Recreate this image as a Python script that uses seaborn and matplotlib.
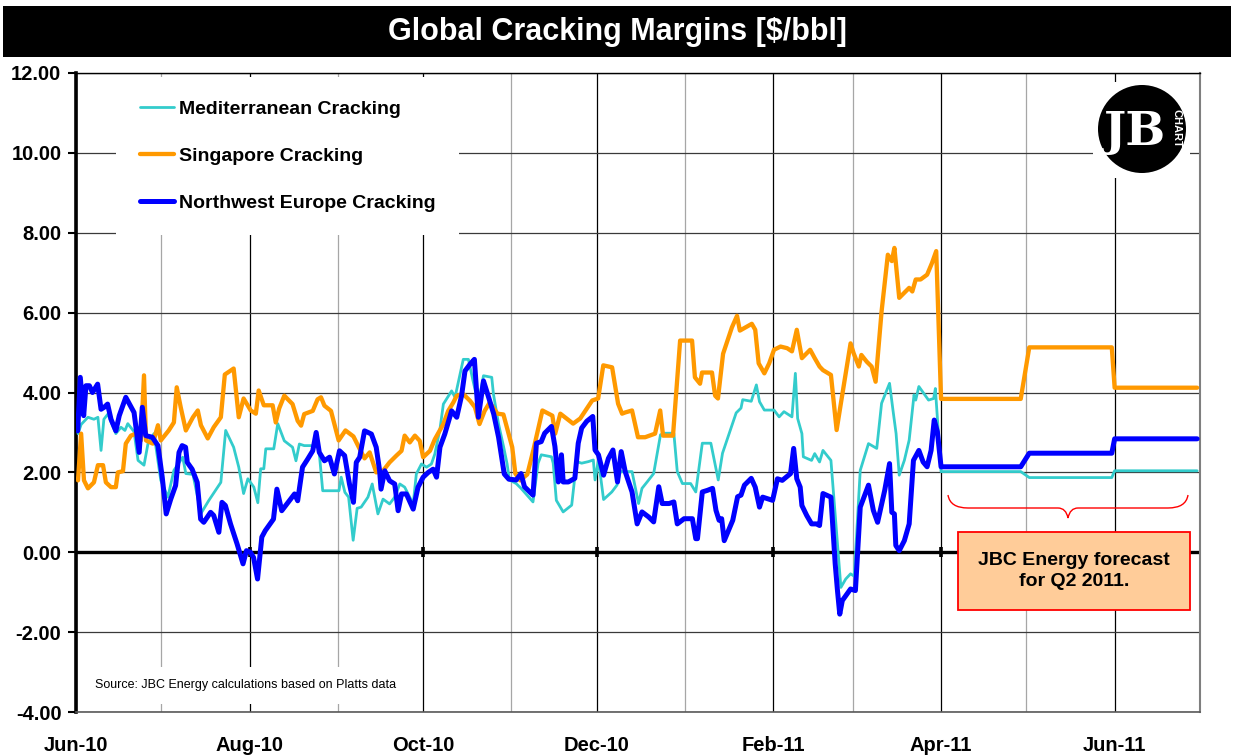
import numpy as np
import pandas as pd
import matplotlib
matplotlib.use("Agg")
import matplotlib.pyplot as plt
from matplotlib.patches import Rectangle, Ellipse, PathPatch
from matplotlib.path import Path
import seaborn as sns

# ---------------- data ----------------
# days since 2010-06-01
med_days = [0.7, 1.8, 4.2, 6.3, 7.7, 8.8, 9.8, 11.2, 14.0, 15.8,
            17.2, 18.2, 20.4, 21.8, 23.9, 25.3, 27.4, 29.8, 32.3, 34.4,
            37.5, 38.6, 41.1, 43.9, 46.7, 50.9, 52.6, 55.4, 57.2, 58.9,
            60.4, 62.5, 63.9, 64.9, 66.0, 66.7, 69.5, 70.9, 73.2, 76.1,
            77.3, 78.5, 80.2, 82.6, 85.3, 86.7, 89.1, 92.4, 93.2, 94.5,
            95.8, 97.4, 98.8, 100.2, 102.6, 104.1, 106.1, 107.9, 110.2, 112.0,
            113.8, 115.5, 118.5, 119.6, 121.4, 123.2, 124.9, 126.1, 127.9, 129.1,
            132.0, 133.2, 136.1, 137.9, 139.5, 141.4, 143.2, 146.1, 146.7, 148.5,
            150.3, 151.5, 152.3, 154.7, 156.4, 160.6, 162.4, 163.5, 167.1, 167.7,
            168.8, 171.2, 174.2, 175.9, 177.7, 180.1, 181.8, 182.4, 183.6, 185.4,
            188.3, 190.1, 191.3, 195.4, 197.7, 198.9, 200.7, 203.0, 205.4, 206.6,
            210.1, 211.3, 213.1, 216.0, 217.8, 220.1, 223.1, 225.7, 227.2, 230.2,
            232.0, 233.7, 234.3, 237.3, 239.1, 240.2, 241.9, 245.3, 247.1, 248.8,
            251.6, 252.8, 253.6, 255.1, 255.6, 258.5, 259.6, 261.3, 262.5, 265.3,
            268.8, 270.5, 272.2, 273.5, 275.6, 278.5, 281.4, 283.1, 285.9, 287.1,
            288.2, 289.3, 291.1, 292.8, 294.5, 295.1, 296.2, 297.9, 299.6, 301.4,
            302.0]
med_vals = [2.97, 3.2, 3.38, 3.33, 3.38, 2.55, 3.33, 3.46, 2.97, 3.13,
            3.05, 3.22, 3.02, 2.3, 2.18, 2.72, 2.97, 1.8, 1.38, 2.05,
            2.38, 1.97, 1.95, 0.97, 1.3, 1.75, 3.05, 2.63, 2.13, 1.47,
            1.84, 1.63, 1.24, 2.09, 2.09, 2.59, 2.59, 3.22, 2.79, 2.63,
            2.29, 2.71, 2.67, 2.67, 2.63, 1.54, 1.54, 1.54, 1.88, 1.5,
            1.38, 0.3, 1.1, 1.13, 1.38, 1.71, 0.96, 1.33, 1.21, 1.38,
            1.71, 1.63, 1.21, 1.96, 2.21, 2.13, 2.21, 2.46, 3.08, 3.71,
            4.04, 3.88, 4.83, 4.83, 4.3, 3.71, 4.42, 4.38, 3.96, 3.21,
            2.63, 2.21, 1.81, 1.72, 1.6, 1.26, 2.23, 2.44, 2.39, 2.23,
            1.3, 1.01, 1.18, 2.27, 2.23, 2.27, 2.31, 1.81, 2.31, 1.32,
            1.51, 1.68, 2.02, 2.02, 1.22, 1.6, 1.76, 1.97, 2.94, 2.98,
            2.98, 2.02, 1.72, 1.72, 1.51, 2.73, 2.73, 1.81, 2.48, 3.11,
            3.49, 3.61, 3.82, 3.78, 4.19, 3.77, 3.56, 3.56, 3.39, 3.52,
            3.39, 4.48, 3.35, 2.97, 2.39, 2.3, 2.47, 2.26, 2.55, 2.3,
            -0.88, -0.67, -0.54, -0.6, 2.05, 2.72, 2.6, 3.73, 4.23, 3.56,
            2.97, 1.93, 2.3, 2.81, 3.94, 3.81, 4.15, 3.98, 3.81, 3.85,
            4.1]

sing_days = [0.7, 1.8, 2.8, 4.2, 6.3, 7.7, 9.5, 10.5, 12.3, 14.0,
             14.7, 16.5, 17.5, 19.3, 21.1, 22.8, 23.9, 24.6, 27.0, 28.8,
             29.8, 32.6, 34.4, 35.4, 36.8, 38.6, 41.1, 42.8, 43.9, 46.3,
             48.4, 50.9, 52.3, 55.4, 57.2, 58.9, 61.4, 63.2, 64.2, 66.0,
             69.1, 70.2, 71.4, 73.2, 76.1, 77.9, 79.1, 80.2, 83.2, 84.9,
             86.1, 87.3, 89.6, 92.3, 94.7, 97.5, 99.6, 101.4, 103.2, 105.5,
             107.9, 110.2, 112.6, 114.4, 115.5, 117.3, 119.1, 120.8, 122.0, 124.4,
             126.1, 129.1, 130.8, 132.6, 133.8, 136.1, 138.5, 140.2, 141.8, 143.6,
             145.4, 148.1, 150.2, 153.3, 154.4, 156.1, 158.6, 160.7, 163.9, 167.4,
             168.4, 170.2, 174.7, 177.2, 181.4, 183.5, 185.3, 188.4, 190.5, 191.9,
             193.0, 195.4, 197.5, 200.0, 203.5, 205.3, 206.3, 209.8, 212.3, 216.5,
             217.5, 219.3, 220.0, 223.5, 224.6, 225.6, 227.4, 230.5, 232.3, 233.3,
             237.5, 238.7, 239.9, 241.9, 243.6, 245.3, 247.6, 249.9, 251.6, 253.3,
             255.1, 256.2, 258.0, 259.6, 261.3, 262.5, 265.3, 267.3, 268.8, 272.2,
             273.3, 275.1, 276.0, 277.9, 279.6, 281.0, 283.1, 285.3, 286.7, 287.6,
             289.3, 292.8, 293.9, 295.1, 296.8, 299.1, 300.8, 302.3]
sing_vals = [1.8, 2.97, 1.8, 1.6, 1.75, 2.18, 2.18, 1.75, 1.63, 1.63,
             2.0, 2.03, 2.72, 2.92, 2.97, 2.8, 4.43, 2.8, 2.72, 3.18,
             2.8, 3.05, 3.25, 4.13, 3.63, 3.05, 3.38, 3.55, 3.18, 2.85,
             3.13, 3.38, 4.45, 4.6, 3.38, 3.85, 3.55, 3.47, 4.05, 3.68,
             3.68, 3.25, 3.6, 3.92, 3.71, 3.29, 3.17, 3.46, 3.54, 3.83,
             3.88, 3.67, 3.54, 2.8, 3.05, 2.9, 2.6, 2.35, 2.5, 2.0,
             2.04, 2.25, 2.42, 2.54, 2.92, 2.75, 2.92, 2.79, 2.38, 2.54,
             2.83, 3.21, 3.54, 3.75, 3.92, 3.96, 3.79, 3.63, 3.21, 3.54,
             3.75, 3.47, 3.45, 2.63, 1.97, 1.8, 1.95, 2.55, 3.55, 3.42,
             2.97, 3.47, 3.22, 3.35, 3.8, 3.85, 4.68, 4.63, 3.72, 3.47,
             3.5, 3.55, 2.88, 2.88, 2.97, 3.55, 2.92, 2.92, 5.3, 5.3,
             4.38, 4.22, 4.5, 4.5, 3.92, 3.85, 4.97, 5.63, 5.92, 5.55,
             5.72, 5.57, 4.73, 4.48, 4.73, 5.07, 5.15, 5.11, 5.03, 5.57,
             4.86, 4.94, 5.07, 4.86, 4.65, 4.56, 4.44, 3.06, 3.73, 5.23,
             4.98, 4.65, 4.94, 4.77, 4.65, 4.27, 6.03, 7.45, 7.29, 7.62,
             6.37, 6.62, 6.53, 6.83, 6.83, 6.95, 7.24, 7.54]

nwe_days = [0.6, 1.5, 2.7, 3.5, 4.7, 5.8, 7.6, 8.8, 9.9, 11.1,
            12.3, 14.0, 15.2, 17.5, 20.4, 22.2, 23.3, 24.5, 26.8, 28.8,
            30.3, 31.7, 33.3, 35.0, 36.2, 37.3, 38.5, 39.1, 40.8, 42.6,
            43.8, 44.9, 47.3, 48.4, 50.2, 51.3, 52.5, 54.3, 56.6, 58.7,
            59.9, 61.3, 62.4, 63.8, 65.3, 66.5, 69.4, 70.6, 72.3, 75.0,
            76.8, 77.9, 79.6, 81.4, 83.2, 84.4, 85.5, 87.3, 89.1, 90.8,
            92.6, 94.4, 96.1, 97.5, 98.5, 99.7, 101.4, 103.8, 105.5, 106.7,
            107.2, 108.5, 110.2, 112.0, 113.2, 114.4, 116.1, 118.5, 120.2, 122.0,
            123.8, 125.5, 126.7, 127.9, 129.6, 132.0, 133.8, 135.5, 136.7, 138.5,
            140.0, 141.4, 143.2, 145.0, 146.8, 148.5, 150.5, 152.1, 154.7, 156.4,
            157.6, 160.6, 161.8, 163.5, 164.7, 167.1, 168.3, 169.5, 170.6, 171.2,
            173.0, 175.3, 176.5, 177.7, 179.5, 181.6, 182.4, 183.6, 185.4, 187.1,
            188.7, 190.3, 191.6, 193.0, 195.4, 197.2, 198.9, 201.3, 203.0, 204.8,
            206.0, 208.4, 210.1, 211.3, 213.7, 216.6, 217.8, 218.4, 220.1, 221.9,
            223.7, 224.9, 226.0, 226.9, 227.8, 230.8, 232.5, 233.7, 234.9, 237.3,
            238.7, 240.2, 241.3, 244.8, 246.5, 248.2, 251.1, 252.2, 253.3, 254.5,
            255.1, 256.8, 258.5, 260.2, 261.3, 262.5, 265.3, 266.8, 267.6, 268.4,
            269.3, 272.2, 273.9, 275.6, 278.5, 280.2, 281.7, 284.2, 285.9, 286.7,
            287.6, 288.1, 289.3, 291.1, 292.8, 294.3, 296.2, 297.7, 299.1, 300.5,
            301.6, 302.7]
nwe_vals = [3.04, 4.38, 3.42, 4.17, 4.17, 4.0, 4.21, 3.58, 3.63, 3.71,
            3.33, 3.04, 3.42, 3.88, 3.5, 2.5, 3.63, 2.92, 2.88, 2.67,
            1.88, 0.96, 1.33, 1.67, 2.5, 2.67, 2.63, 2.25, 2.08, 1.75,
            0.83, 0.75, 1.0, 0.92, 0.5, 1.25, 1.17, 0.71, 0.21, -0.29,
            0.04, 0.0, -0.13, -0.67, 0.38, 0.54, 0.83, 1.58, 1.04, 1.29,
            1.46, 1.29, 2.13, 2.33, 2.54, 3.0, 2.5, 2.29, 2.38, 1.96,
            2.54, 2.42, 1.71, 1.25, 2.25, 2.38, 3.04, 2.96, 2.63, 2.04,
            1.58, 2.04, 1.79, 1.71, 1.04, 1.46, 1.46, 1.08, 1.63, 1.88,
            2.0, 2.08, 1.88, 2.63, 2.96, 3.54, 3.38, 3.92, 4.54, 4.71,
            4.83, 3.38, 4.29, 3.88, 3.46, 2.88, 1.96, 1.83, 1.81, 1.97,
            1.64, 1.43, 2.73, 2.77, 2.98, 3.15, 2.65, 1.76, 2.44, 1.76,
            1.76, 1.85, 2.73, 3.11, 3.28, 3.4, 2.56, 2.44, 1.93, 2.35,
            2.56, 1.76, 2.52, 2.02, 1.51, 0.71, 1.01, 0.88, 0.76, 1.64,
            1.22, 1.22, 1.26, 0.71, 0.84, 0.84, 0.34, 0.34, 1.51, 1.55,
            1.6, 1.05, 0.8, 0.84, 0.29, 0.8, 1.39, 1.43, 1.68, 1.85,
            1.63, 1.13, 1.38, 1.3, 1.84, 1.8, 1.97, 2.6, 1.84, 1.63,
            1.17, 0.92, 0.71, 0.71, 0.67, 1.47, 1.38, -0.29, -0.96, -1.55,
            -1.21, -0.92, -0.96, 1.13, 1.68, 1.05, 0.75, 1.55, 2.22, 1.0,
            0.96, 0.17, 0.04, 0.29, 0.71, 2.3, 2.55, 2.26, 2.14, 2.55,
            3.31, 3.02]

# monthly forecast levels (Q2 2011)
fc_months = ["2011-04", "2011-05", "2011-06"]
med_fc = [2.02, 1.87, 2.04]
sing_fc = [3.84, 5.13, 4.12]
nwe_fc = [2.14, 2.48, 2.84]

series_names = ["Mediterranean Cracking", "Singapore Cracking", "Northwest Europe Cracking"]
series_colors = ["#33CCCC", "#FF9900", "#0000FF"]
series_lw = [2.0, 3.1, 3.6]

y_ticks = [-4, -2, 0, 2, 4, 6, 8, 10, 12]

# ---------------- build series ----------------
base = pd.Timestamp("2010-06-01")
fc_dates = pd.bdate_range("2011-04-01", "2011-06-30")
fc_key = fc_dates.strftime("%Y-%m")


def build(days, vals, fc):
    hist_dates = base + pd.to_timedelta(np.array(days), unit="D")
    lvl = dict(zip(fc_months, fc))
    d = list(hist_dates) + list(fc_dates)
    v = list(vals) + [lvl[k] for k in fc_key]
    return pd.DataFrame({"date": d, "value": v})


frames = [build(med_days, med_vals, med_fc),
          build(sing_days, sing_vals, sing_fc),
          build(nwe_days, nwe_vals, nwe_fc)]

# ---------------- figure ----------------
sns.set_theme(style="white")
plt.rcParams["font.family"] = ["Liberation Sans", "DejaVu Sans"]
plt.rcParams["text.color"] = "black"
plt.rcParams["axes.labelcolor"] = "black"
plt.rcParams["xtick.color"] = "black"
plt.rcParams["ytick.color"] = "black"

W, H = 1234, 755
fig = plt.figure(figsize=(W / 100, H / 100), dpi=100)
fig.patch.set_facecolor("white")
ax = fig.add_axes([76 / W, 1 - 712 / H, 1124 / W, 639 / H])
ax.set_facecolor("white")
ax.set_axisbelow(True)

for df, name, col, lw in zip(frames, series_names, series_colors, series_lw):
    sns.lineplot(data=df, x="date", y="value", color=col, linewidth=lw,
                 label=name, estimator=None, ax=ax, zorder=3)

ax.set_xlim(pd.Timestamp("2010-06-01"), pd.Timestamp("2011-07-01"))
ax.set_ylim(-4, 12)
ax.set_xlabel("")
ax.set_ylabel("")

major = pd.date_range("2010-06-01", "2011-06-01", freq="2MS")
minor = pd.date_range("2010-07-01", "2011-07-01", freq="2MS")
ax.set_xticks(major)
ax.set_xticklabels([d.strftime("%b-%y") for d in major], fontweight="bold", fontsize=14.5,
                   color="black")
ax.set_xticks(minor, minor=True)
ax.tick_params(axis="x", which="both", length=0, pad=17, colors="black")

ax.set_yticks(y_ticks)
ax.set_yticklabels([f"{t:.2f}" for t in y_ticks], fontweight="bold", fontsize=14.5,
                   color="black")
ax.tick_params(axis="y", which="major", direction="out", length=6, width=1.5,
               pad=4.5, left=True, colors="black")

ax.grid(True, which="major", axis="x", color="black", lw=0.9)
ax.grid(True, which="minor", axis="x", color="#a6a6a6", lw=0.9)
ax.grid(True, which="major", axis="y", color="#3a3a3a", lw=0.9)

for s in ["left", "top", "right", "bottom"]:
    ax.spines[s].set_visible(True)
ax.spines["left"].set_color("black")
ax.spines["left"].set_linewidth(2.6)
ax.spines["top"].set_color("black")
ax.spines["top"].set_linewidth(1.0)
ax.spines["right"].set_color("#7f7f7f")
ax.spines["right"].set_linewidth(1.5)
ax.spines["bottom"].set_color("#5a5a5a")
ax.spines["bottom"].set_linewidth(1.2)

# horizontal category axis crossing at zero, with tick marks
ax.axhline(0, color="black", lw=2.4, zorder=2)
ax.vlines(major[1:-1], -0.12, 0.12, color="black", lw=2.6, zorder=2)

# legend
handles, labels = ax.get_legend_handles_labels()
leg = ax.legend(handles, labels, loc="upper left", bbox_to_anchor=(0.036, 0.994),
                borderaxespad=0, frameon=True, fancybox=False, borderpad=1.2,
                labelspacing=1.52, handlelength=1.75, handletextpad=0.25,
                prop={"weight": "bold", "size": 14})
leg.get_frame().set_facecolor("white")
leg.get_frame().set_edgecolor("none")
leg.get_frame().set_alpha(1.0)
leg.set_zorder(6)
for t in leg.get_texts():
    t.set_color("black")


def pax(px, py):
    return ((px - 76) / 1124, (712 - py) / 639)


# source note
ax.text(*pax(95, 685), "Source: JBC Energy calculations based on Platts data",
        transform=ax.transAxes, fontsize=9, va="center", ha="left", color="black",
        zorder=7, bbox=dict(facecolor="white", edgecolor="none", pad=9))

# forecast box
x0, y0 = pax(958, 610)
x1, y1 = pax(1190, 532)
ax.add_patch(Rectangle((x0, y0), x1 - x0, y1 - y0, transform=ax.transAxes,
                       facecolor="#FFCC99", edgecolor="#FF0000", lw=1.3, zorder=7))
ax.text((x0 + x1) / 2, (y0 + y1) / 2, "JBC Energy forecast\nfor Q2 2011.",
        transform=ax.transAxes, ha="center", va="center", fontsize=14,
        fontweight="bold", linespacing=1.35, zorder=8, color="black")

# brace
bv = [(948, 495), (950, 508), (968, 508), (1058, 508), (1066, 508), (1068, 518),
      (1070, 508), (1078, 508), (1168, 508), (1186, 508), (1188, 495)]
bc = [Path.MOVETO, Path.CURVE3, Path.CURVE3, Path.LINETO, Path.CURVE3, Path.CURVE3,
      Path.CURVE3, Path.CURVE3, Path.LINETO, Path.CURVE3, Path.CURVE3]
ax.add_patch(PathPatch(Path([pax(*p) for p in bv], bc), transform=ax.transAxes,
                       fill=False, edgecolor="#FF0000", lw=1.0, zorder=7))

# title bar
fig.add_artist(Rectangle((3 / W, 1 - 57 / H), 1228 / W, 51 / H,
                         transform=fig.transFigure, facecolor="black", edgecolor="none"))
fig.text(617 / W, 1 - 32 / H, "Global Cracking Margins [$/bbl]", color="white",
         fontsize=22, fontweight="bold", ha="center", va="center")

# logo
fig.add_artist(Rectangle((1093 / W, 1 - 178 / H), 97 / W, 96 / H,
                         transform=fig.transFigure, facecolor="white", edgecolor="none"))
fig.add_artist(Ellipse((1142 / W, 1 - 129 / H), 88 / W, 88 / H,
                       transform=fig.transFigure, facecolor="black", edgecolor="none"))
fig.text(1135 / W, 1 - 132 / H, "JB", color="white", fontsize=34, fontweight="bold",
         family="DejaVu Serif", ha="center", va="center")
fig.text(1176 / W, 1 - 128 / H, "CHART", color="white", fontsize=8, fontweight="bold",
         rotation=270, ha="center", va="center")

fig.savefig("out.png", dpi=100)
